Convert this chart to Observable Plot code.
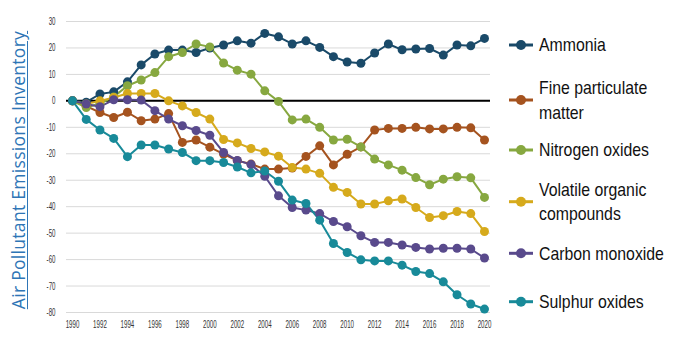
<!DOCTYPE html>
<html>
<head>
<meta charset="utf-8">
<script src="https://cdn.jsdelivr.net/npm/d3@7"></script>
<script src="https://cdn.jsdelivr.net/npm/@observablehq/plot@0.6"></script>
<style>
  html, body { margin: 0; padding: 0; background: #fff; }
  #wrap { position: relative; width: 676px; height: 337px; overflow: hidden; }
  #ytitle {
    position: absolute; left: 18px; top: 170px;
    transform: translate(-50%, -50%) rotate(-90deg);
    white-space: nowrap; font-family: "Open Sans", sans-serif; font-size: 17.5px;
    color: #2e75b6; text-decoration: underline; text-underline-offset: 2px; letter-spacing: 0.3px;
  }
  #legend { position: absolute; left: 0; top: 0; }
</style>
</head>
<body>
<div id="wrap">
  <div id="ytitle">Air Pollutant Emissions Inventory</div>
</div>
<script>
const years = d3.range(1990, 2021);
const seriesNames = ["Ammonia", "Fine particulate matter", "Nitrogen oxides", "Volatile organic compounds", "Carbon monoxide", "Sulphur oxides"];
const legendLines = [["Ammonia"], ["Fine particulate", "matter"], ["Nitrogen oxides"], ["Volatile organic", "compounds"], ["Carbon monoxide"], ["Sulphur oxides"]];
const seriesColors = ["#1a4a69", "#a5531f", "#87a840", "#d6aa1c", "#594a8c", "#188a99"];

const ammonia = [0,-0.5,2.6,3.4,7.2,13.6,17.7,19.2,19.2,18.3,20,21.1,22.7,21.8,25.5,24.2,21.5,22.7,20.2,16.7,14.7,14.2,18.1,21.5,19.3,19.6,19.8,17.3,21.1,20.8,23.6];
const fineParticulate = [0,-2,-4.4,-6.3,-4.3,-7.5,-6.9,-4.8,-15.7,-14.8,-17.5,-20.1,-22.6,-23.9,-25.8,-25.8,-25.4,-21,-17,-24.2,-20.2,-17.4,-11,-10.4,-10.4,-10,-10.6,-10.6,-10,-10.2,-14.8];
const nitrogenOxides = [0,-2.5,-1,1.5,5.7,7.9,10.7,16.7,18.3,21.5,20.4,14.3,11.6,10.1,3.8,-0.2,-7.2,-6.9,-10,-14.8,-14.5,-17.4,-22,-24.2,-26.2,-29,-31.7,-29.6,-28.7,-29.1,-36.5];
const volatileOrganic = [0,-1.2,0,1.3,2.8,2.8,2.8,0,-1.9,-4.4,-6.9,-14.6,-15.9,-18,-19.3,-20.9,-25.2,-25.8,-27.4,-32.7,-34.6,-39,-39,-37.8,-37.1,-40.3,-44.1,-43.4,-41.8,-42.6,-49.4];
const carbonMonoxide = [0,-1.2,-2.2,0.4,0.4,0.3,-3.7,-6.9,-9.4,-11.2,-13,-19.5,-22.5,-24.1,-28.5,-35.9,-40.3,-41.3,-42.6,-45.6,-47.6,-51,-53.5,-53.5,-54.5,-55.4,-56,-55.7,-55.7,-56,-59.4];
const sulphurOxides = [0,-7,-11,-14.2,-21.1,-16.7,-16.7,-18.2,-19.5,-22.6,-22.6,-23.3,-25,-27.2,-26.5,-30.4,-37.5,-38.8,-45.1,-53.9,-57.3,-60.1,-60.5,-60.5,-62.1,-64.5,-65.3,-68.4,-73.3,-76.8,-78.7];

const yTicks = [30,20,10,0,-10,-20,-30,-40,-50,-60,-70,-80];
const xTicks = d3.range(1990, 2021, 2);

const allSeries = [ammonia, fineParticulate, nitrogenOxides, volatileOrganic, carbonMonoxide, sulphurOxides];
const rows = [];
allSeries.forEach((vals, i) => vals.forEach((v, j) => rows.push({series: seriesNames[i], year: years[j], value: v})));

const tickFont = '"Liberation Sans", Arial, sans-serif';

const chart = Plot.plot({
  width: 676,
  height: 337,
  marginLeft: 66,
  marginRight: 186,
  marginTop: 21,
  marginBottom: 25,
  style: {fontFamily: tickFont, fontSize: "11px", color: "#333", background: "transparent"},
  x: {domain: [1990, 2020], insetLeft: 6, insetRight: 6},
  y: {domain: [-80, 30]},
  color: {domain: seriesNames, range: seriesColors},
  marks: [
    Plot.ruleY(yTicks, {stroke: "#d9d9d9", strokeWidth: 1}),
    Plot.axisY({ticks: yTicks, tickSize: 0, tickPadding: 11, tickFormat: d => String(d), label: null}),
    Plot.axisX({ticks: xTicks, tickSize: 0, tickPadding: 8, tickFormat: d => String(d), label: null}),
    Plot.ruleY([0], {stroke: "#000", strokeWidth: 2}),
    Plot.line(rows, {x: "year", y: "value", z: "series", stroke: "series", strokeWidth: 2}),
    Plot.dot(rows, {x: "year", y: "value", fill: "series", r: 4.5})
  ]
});
// condense the axis tick labels horizontally, as in the reference
d3.select(chart).selectAll('g[aria-label="x-axis tick label"] text, g[aria-label="y-axis tick label"] text')
  .attr("transform", function() { return (this.getAttribute("transform") || "") + " scale(0.56,1)"; });
document.getElementById("wrap").appendChild(chart);

// Legend
const legendY = [45, 100, 150, 201.7, 253.3, 301.7];
const lg = d3.select("#wrap").append("svg").attr("id", "legend").attr("width", 676).attr("height", 337);
legendLines.forEach((lines, i) => {
  const g = lg.append("g").attr("transform", `translate(0,${legendY[i]})`);
  g.append("line").attr("x1", 509).attr("x2", 533).attr("y1", 0).attr("y2", 0)
    .attr("stroke", seriesColors[i]).attr("stroke-width", 3);
  g.append("circle").attr("cx", 521).attr("cy", 0).attr("r", 5).attr("fill", seriesColors[i]);
  const n = lines.length;
  const tg = g.append("g").attr("transform", "translate(539,0) scale(0.88,1)");
  lines.forEach((t, k) => {
    tg.append("text").attr("x", 0).attr("y", (k - (n - 1) / 2) * 25)
      .attr("dy", "0.35em")
      .attr("font-family", tickFont).attr("font-size", 18).attr("fill", "#111")
      .text(t);
  });
});
</script>
</body>
</html>
